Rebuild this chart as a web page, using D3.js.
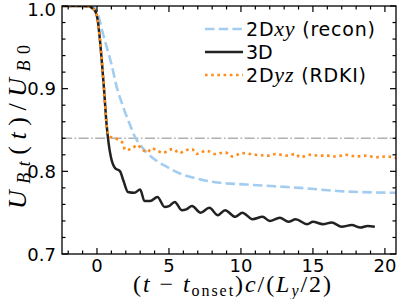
<!DOCTYPE html>
<html>
<head>
<meta charset="utf-8">
<script src="https://cdn.jsdelivr.net/npm/d3@7"></script>
<style>
  body { margin: 0; background: #fff; }
  svg { display: block; }
  .tick-label { font-family: "DejaVu Sans", sans-serif; font-size: 18px; fill: #000; }
  .math { font-family: "Liberation Serif", serif; font-style: italic; }
  .rm { font-family: "Liberation Serif", serif; font-style: normal; }
</style>
</head>
<body>
<div id="chart"></div>
<script>
// 3D run
const t3D = [-2.4, -1.0, -0.5, -0.3, -0.1, 0.05, 0.2, 0.35, 0.5, 0.65, 0.8, 0.97, 1.25, 1.6, 1.85, 2.15, 2.6, 3.0, 3.3, 3.7, 4.2, 4.7, 5.0, 5.4, 5.9, 6.2, 6.6, 7.2, 7.8, 8.4, 8.9, 9.6, 10.1, 10.8, 11.5, 12.0, 12.7, 13.3, 13.8, 14.6, 15.0, 15.7, 16.3, 17.0, 17.7, 18.3, 18.8, 19.3];
const u3D = [1.0, 1.0, 0.999, 0.997, 0.993, 0.983, 0.96, 0.93, 0.897, 0.86, 0.835, 0.817, 0.804, 0.800, 0.788, 0.775, 0.774, 0.778, 0.764, 0.764, 0.769, 0.757, 0.758, 0.763, 0.753, 0.754, 0.758, 0.750, 0.756, 0.747, 0.753, 0.745, 0.750, 0.742, 0.745, 0.740, 0.744, 0.739, 0.742, 0.736, 0.739, 0.736, 0.738, 0.733, 0.735, 0.732, 0.734, 0.733];

// 2D xy (recon)
const tXY = [-2.4, -0.5, -0.2, 0.0, 0.2, 0.35, 0.6, 1.0, 1.4, 1.7, 2.0, 2.3, 2.6, 3.0, 3.5, 4.2, 4.9, 5.8, 6.8, 8.1, 10.4, 13.2, 14.1, 16.9, 20.8];
const uXY = [1.0, 1.0, 0.998, 0.993, 0.982, 0.971, 0.955, 0.930, 0.900, 0.884, 0.869, 0.856, 0.843, 0.832, 0.822, 0.812, 0.805, 0.797, 0.792, 0.787, 0.784, 0.781, 0.780, 0.776, 0.774];

// 2D yz (RDKI)
const tYZ = [-2.4, -1.0, -0.5, -0.3, -0.1, 0.05, 0.2, 0.35, 0.5, 0.65, 0.75, 0.9, 1.4, 1.8, 1.95, 2.4, 2.8, 3.1, 3.5, 3.8, 4.2, 4.6, 4.9, 5.3, 5.7, 6.1, 6.6, 6.9, 7.6, 8.2, 8.9, 9.4, 10.1, 11.0, 11.9, 12.4, 13.2, 13.8, 14.1, 14.8, 15.4, 16.0, 16.6, 17.3, 18.0, 18.7, 19.4, 20.1, 20.8];
const uYZ = [1.0, 1.0, 0.999, 0.997, 0.993, 0.983, 0.96, 0.93, 0.897, 0.86, 0.847, 0.842, 0.839, 0.834, 0.826, 0.827, 0.832, 0.827, 0.823, 0.828, 0.825, 0.822, 0.825, 0.827, 0.822, 0.825, 0.827, 0.821, 0.825, 0.821, 0.823, 0.818, 0.822, 0.820, 0.819, 0.821, 0.819, 0.821, 0.817, 0.820, 0.819, 0.819, 0.818, 0.820, 0.818, 0.819, 0.817, 0.818, 0.816];

const thresholdU = 0.84;
const xTicks = [0, 5, 10, 15, 20];
const yTicks = [0.7, 0.8, 0.9, 1.0];

const width = 399, height = 299;
const margin = { top: 6, right: 3, bottom: 45, left: 62 };

const svg = d3.select("#chart").append("svg")
  .attr("width", width)
  .attr("height", height);

const x = d3.scaleLinear().domain([-2.43, 20.77]).range([margin.left, width - margin.right]);
const y = d3.scaleLinear().domain([0.7, 1.0]).range([height - margin.bottom, margin.top]);

const x0 = margin.left, x1 = width - margin.right;
const y0 = height - margin.bottom, y1 = margin.top;

// clip to the axes box
svg.append("clipPath").attr("id", "clip")
  .append("rect").attr("x", x0).attr("y", y1).attr("width", x1 - x0).attr("height", y0 - y1);

const plot = svg.append("g").attr("clip-path", "url(#clip)");

// threshold line
plot.append("line")
  .attr("x1", x0).attr("x2", x1)
  .attr("y1", y(thresholdU)).attr("y2", y(thresholdU))
  .attr("stroke", "#b0b0b0").attr("stroke-width", 1.6)
  .attr("stroke-dasharray", "10,2.5,1.6,2.5");

const line = d3.line().x(d => x(d[0])).y(d => y(d[1])).curve(d3.curveMonotoneX);
const zip = (a, b) => a.map((v, i) => [v, b[i]]);

plot.append("path").datum(zip(tXY, uXY))
  .attr("d", line).attr("fill", "none")
  .attr("stroke", "#a3cdf0").attr("stroke-width", 2.6)
  .attr("stroke-dasharray", "9.5,4.2");

plot.append("path").datum(zip(t3D, u3D))
  .attr("d", line).attr("fill", "none")
  .attr("stroke", "#222").attr("stroke-width", 2.5)
  .attr("stroke-linejoin", "round");

plot.append("path").datum(zip(tYZ, uYZ))
  .attr("d", line).attr("fill", "none")
  .attr("stroke", "#ff8c1a").attr("stroke-width", 2.6)
  .attr("stroke-dasharray", "2.6,3.6");

// ticks (inward, all four sides)
const ax = svg.append("g").attr("stroke", "#000").attr("stroke-width", 1.2);
const xMinor = d3.range(-2, 21, 1).filter(v => !xTicks.includes(v));
const yMinor = d3.range(0, 16).map(i => +(0.7 + i * 0.02).toFixed(2)).filter(v => !yTicks.includes(v));

function xTick(v, len) {
  ax.append("line").attr("x1", x(v)).attr("x2", x(v)).attr("y1", y0).attr("y2", y0 - len);
  ax.append("line").attr("x1", x(v)).attr("x2", x(v)).attr("y1", y1).attr("y2", y1 + len);
}
function yTick(v, len) {
  ax.append("line").attr("y1", y(v)).attr("y2", y(v)).attr("x1", x0).attr("x2", x0 + len);
  ax.append("line").attr("y1", y(v)).attr("y2", y(v)).attr("x1", x1).attr("x2", x1 - len);
}
xTicks.forEach(v => xTick(v, 6));
xMinor.forEach(v => xTick(v, 3.5));
yTicks.forEach(v => yTick(v, 6));
yMinor.forEach(v => yTick(v, 3.5));

svg.append("rect")
  .attr("x", x0).attr("y", y1).attr("width", x1 - x0).attr("height", y0 - y1)
  .attr("fill", "none").attr("stroke", "#000").attr("stroke-width", 1.3);

// tick labels
svg.selectAll(".xl").data(xTicks).enter().append("text")
  .attr("class", "tick-label")
  .attr("x", d => x(d)).attr("y", 272)
  .attr("text-anchor", "middle")
  .text(d => d);

svg.selectAll(".yl").data(yTicks).enter().append("text")
  .attr("class", "tick-label")
  .attr("x", 56).attr("y", d => Math.max(y(d) + 6.5, 16))
  .attr("text-anchor", "end")
  .text(d => d.toFixed(1));

// x axis label: (t − t_onset) c / (L_y / 2)
const xl = svg.append("text")
  .attr("x", 232).attr("y", 292)
  .attr("text-anchor", "middle")
  .attr("font-size", 24)
  .attr("textLength", 198)
  .attr("lengthAdjust", "spacing")
  .attr("class", "rm");
xl.append("tspan").text("(");
xl.append("tspan").attr("class", "math").text("t");
xl.append("tspan").text(" \u2212 ");
xl.append("tspan").attr("class", "math").text("t");
xl.append("tspan").attr("font-size", 16).attr("dy", 4).text("onset");
xl.append("tspan").attr("dy", -4).text(")");
xl.append("tspan").attr("class", "math").text("c");
xl.append("tspan").text("/(");
xl.append("tspan").attr("class", "math").text("L");
xl.append("tspan").attr("class", "math").attr("font-size", 16).attr("dy", 4).text("y");
xl.append("tspan").attr("dy", -4).text("/2)");

// y axis label: U_Bt(t) / U_B0
const yl = svg.append("text")
  .attr("transform", `translate(26,127) rotate(-90)`)
  .attr("text-anchor", "middle")
  .attr("font-size", 26)
  .attr("textLength", 164)
  .attr("lengthAdjust", "spacing")
  .attr("class", "rm");
yl.append("tspan").attr("class", "math").text("U");
yl.append("tspan").attr("class", "math").attr("font-size", 18).attr("dy", 4).text("Bt");
yl.append("tspan").attr("dy", -4).text("(");
yl.append("tspan").attr("class", "math").text("t");
yl.append("tspan").text(")/");
yl.append("tspan").attr("class", "math").text("U");
yl.append("tspan").attr("class", "math").attr("font-size", 18).attr("dy", 4).text("B");
yl.append("tspan").attr("font-size", 18).text("0");

// legend
const legendItems = [
  { pre: "2D", math: "xy", post: " (recon)", color: "#a3cdf0", dash: "9.5,4.2", len: 129 },
  { pre: "3D", math: "", post: "", color: "#222", dash: null, len: null },
  { pre: "2D", math: "yz", post: " (RDKI)", color: "#ff8c1a", dash: "2.6,3.6", len: 120 }
];
const lg = svg.append("g");
legendItems.forEach((d, i) => {
  const cy = 29 + i * 23;
  lg.append("line")
    .attr("x1", 205).attr("x2", 243).attr("y1", cy).attr("y2", cy)
    .attr("stroke", d.color).attr("stroke-width", 2.6)
    .attr("stroke-dasharray", d.dash);
  const t = lg.append("text")
    .attr("x", 246).attr("y", cy + 7)
    .attr("font-family", "DejaVu Sans, sans-serif")
    .attr("font-size", 19);
  if (d.len) t.attr("textLength", d.len).attr("lengthAdjust", "spacing");
  t.append("tspan").text(d.pre);
  if (d.math) t.append("tspan").attr("class", "math").attr("font-size", 22).text(d.math);
  if (d.post) t.append("tspan").text(d.post);
});
</script>
</body>
</html>
